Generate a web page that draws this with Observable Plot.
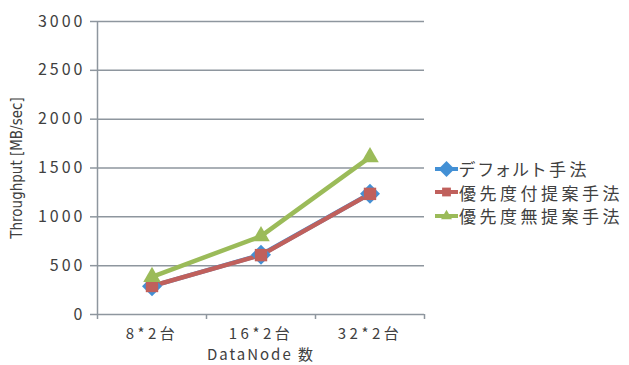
<!DOCTYPE html>
<html>
<head>
<meta charset="utf-8">
<script src="https://cdn.jsdelivr.net/npm/d3@7"></script>
<script src="https://cdn.jsdelivr.net/npm/@observablehq/plot@0.6"></script>
<style>
  html, body { margin: 0; padding: 0; background: #fff; }
  #wrap { position: relative; width: 629px; height: 365px; font-family: "Noto Sans CJK JP", sans-serif; }
  #legend { position: absolute; left: 435px; top: 157px; color: #404040; font-size: 17px; letter-spacing: 3.5px; font-feature-settings: "palt"; }
  #legend .row { display: flex; align-items: center; height: 23.5px; white-space: nowrap; }
  #legend svg { margin-right: 1px; }
</style>
</head>
<body>
<div id="wrap"></div>
<script>
const categories = ["8*2台", "16*2台", "32*2台"];
const seriesNames = ["デフォルト手法", "優先度付提案手法", "優先度無提案手法"];
const defaultVals = [290, 611, 1236];
const priorityVals = [292, 608, 1235];
const noPriorityVals = [385, 802, 1611];
const yTicks = [0, 500, 1000, 1500, 2000, 2500, 3000];
const colors = ["#4390d5", "#c0605c", "#9bbb59"];
const symbols = ["diamond2", "square", "triangle"];
const symbolR = [9, 7, 6.5];

const allVals = [defaultVals, priorityVals, noPriorityVals];
const data = [];
allVals.forEach((vals, s) => vals.forEach((v, i) => data.push({i, cat: categories[i], series: seriesNames[s], value: v})));

const gray = "#8e969e";
const textColor = "#404040";

const lineMarks = [];
seriesNames.forEach((name, s) => {
  const d = data.filter(r => r.series === name);
  lineMarks.push(Plot.line(d, {x: "i", y: "value", stroke: colors[s], strokeWidth: 4.5}));
});
seriesNames.forEach((name, s) => {
  const d = data.filter(r => r.series === name);
  lineMarks.push(Plot.dot(d, {x: "i", y: "value", fill: colors[s], stroke: "none", symbol: () => symbols[s], r: symbolR[s]}));
});

const chart = Plot.plot({
  width: 629,
  height: 365,
  marginLeft: 97,
  marginRight: 205,
  marginTop: 21,
  marginBottom: 51,
  style: {fontFamily: "'Noto Sans CJK JP', sans-serif", color: textColor, background: "#fff"},
  x: {type: "linear", domain: [-0.5, 2.5], axis: null},
  y: {domain: [0, 3000], axis: null},
  symbol: {type: "identity"},
  marks: [
    Plot.ruleY(yTicks, {x1: -0.5, x2: 2.5, stroke: gray, strokeWidth: 1.5}),
    Plot.ruleX([-0.5], {y1: 0, y2: 3000, stroke: gray, strokeWidth: 1.5}),
    Plot.axisY({ticks: yTicks, tickSize: 7, tickPadding: 5, stroke: gray, strokeWidth: 1.5, fontSize: 16, fill: textColor, label: null, tickFormat: d => String(d)}),
    Plot.axisX({ticks: [-0.5, 0.5, 1.5, 2.5], tickSize: 5, stroke: gray, strokeWidth: 1.5, tickFormat: () => "", label: null}),
    Plot.axisX({ticks: [0, 1, 2], tickSize: 0, tickPadding: 14, fontSize: 15, fill: textColor, tickFormat: i => categories[i], label: null}),
    Plot.text(["DataNode 数"], {frameAnchor: "bottom", lineAnchor: "middle", dy: 41, fontSize: 15, fill: textColor, text: d => d}),
    Plot.text(["Throughput [MB/sec]"], {frameAnchor: "left", textAnchor: "middle", lineAnchor: "middle", dx: -80, rotate: -90, fontSize: 15, fontFamily: "DejaVu Sans", fill: textColor, text: d => d}),
    ...lineMarks
  ]
});

const svg = d3.select(chart);
svg.selectAll("g[aria-label='y-axis tick label'] text").style("letter-spacing", "3px");
svg.selectAll("g[aria-label='x-axis tick label'] text").style("letter-spacing", "3.5px");
svg.selectAll("text").filter(function() { return this.textContent === "DataNode 数"; }).style("letter-spacing", "2px");
svg.selectAll("text").filter(function() { return this.textContent === "Throughput [MB/sec]"; }).style("font-stretch", "condensed");

const wrap = document.getElementById("wrap");
wrap.appendChild(chart);

const legend = document.createElement("div");
legend.id = "legend";
seriesNames.forEach((name, s) => {
  const row = document.createElement("div");
  row.className = "row";
  const sym = d3.symbol(symbols[s] === "diamond2" ? d3.symbolDiamond2 : symbols[s] === "square" ? d3.symbolSquare2 : d3.symbolTriangle2, Math.PI * (symbolR[s] * 0.8) ** 2)();
  row.innerHTML = `<svg width="23" height="16" viewBox="-11.5 -8 23 16"><line x1="-11.5" x2="11.5" y1="0" y2="0" stroke="${colors[s]}" stroke-width="4"/><path d="${sym}" fill="${colors[s]}"/></svg><span>${name}</span>`;
  legend.appendChild(row);
});
wrap.appendChild(legend);
</script>
</body>
</html>
